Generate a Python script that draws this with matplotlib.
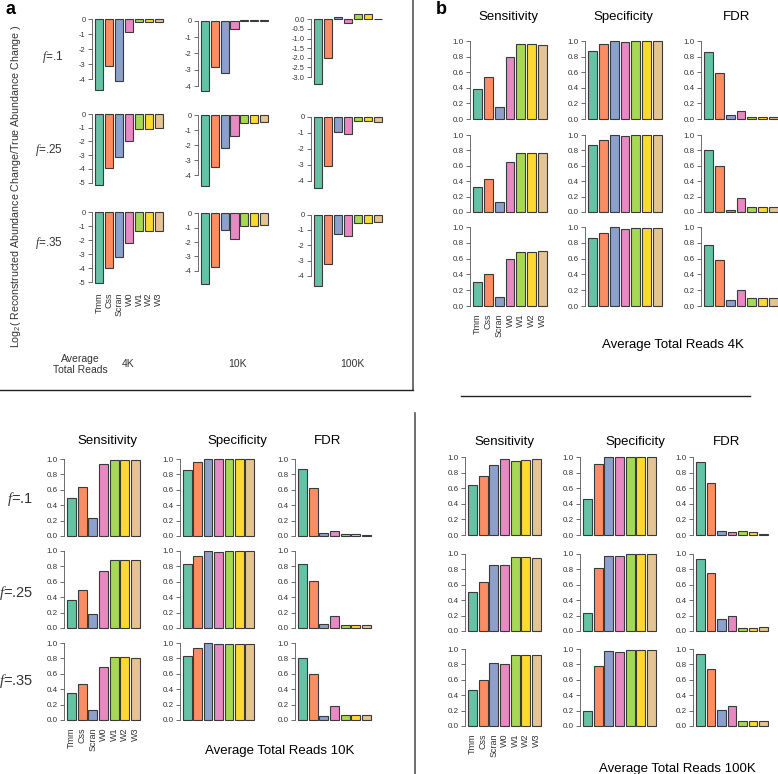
import numpy as np
import matplotlib
matplotlib.use('Agg')
import matplotlib.pyplot as plt
from matplotlib.lines import Line2D

plt.rcParams['font.family'] = ['Liberation Sans', 'DejaVu Sans']
plt.rcParams['mathtext.fontset'] = 'custom'
plt.rcParams['mathtext.rm'] = 'Liberation Sans'
plt.rcParams['mathtext.it'] = 'Liberation Serif:italic'
plt.rcParams['axes.unicode_minus'] = False

# ---- data ----
methods = ['Tmm', 'Css', 'Scran', 'W0', 'W1', 'W2', 'W3']
colors = ['#66C2A5', '#FC8D62', '#8DA0CB', '#E78AC3', '#A6D854', '#FFD92F', '#E5C494']
f_labels = ['.1', '.25', '.35']
reads = ['4K', '10K', '100K']

# panel a: log2 ratio, one list per read depth, rows = f
logfc_4k = [[-4.69, -3.13, -4.09, -0.89, -0.18, -0.18, -0.18],
            [-5.17, -3.96, -3.16, -1.97, -1.12, -1.12, -1.05],
            [-5.05, -4.00, -3.21, -2.17, -1.36, -1.36, -1.31]]
logfc_10k = [[-4.27, -2.83, -3.16, -0.53, 0.05, 0.05, 0.05],
             [-4.70, -3.47, -2.20, -1.37, -0.50, -0.50, -0.45],
             [-4.92, -3.74, -1.15, -1.78, -0.88, -0.88, -0.83]]
logfc_100k = [[-3.38, -2.00, 0.12, -0.20, 0.30, 0.25, 0.03],
              [-4.41, -3.06, -0.93, -1.10, -0.25, -0.27, -0.30],
              [-4.63, -3.25, -1.27, -1.40, -0.52, -0.55, -0.50]]

# panel b and the others: rows = f
sens_4k = [[0.39, 0.54, 0.15, 0.80, 0.96, 0.96, 0.95],
           [0.32, 0.43, 0.13, 0.645, 0.77, 0.77, 0.77],
           [0.31, 0.40, 0.11, 0.60, 0.68, 0.68, 0.70]]
spec_4k = [[0.87, 0.96, 1.0, 0.99, 0.995, 0.995, 0.995],
           [0.87, 0.94, 1.0, 0.985, 0.995, 0.995, 0.995],
           [0.86, 0.93, 1.0, 0.98, 0.99, 0.99, 0.99]]
fdr_4k = [[0.855, 0.585, 0.05, 0.10, 0.02, 0.02, 0.02],
          [0.81, 0.60, 0.03, 0.18, 0.07, 0.07, 0.07],
          [0.77, 0.58, 0.08, 0.20, 0.10, 0.10, 0.10]]

sens_10k = [[0.50, 0.64, 0.24, 0.93, 0.99, 0.99, 0.985],
            [0.37, 0.49, 0.18, 0.74, 0.88, 0.88, 0.88],
            [0.355, 0.465, 0.13, 0.69, 0.82, 0.82, 0.81]]
spec_10k = [[0.857, 0.965, 1.0, 1.0, 1.0, 1.0, 1.0],
            [0.837, 0.935, 1.0, 0.99, 0.995, 0.995, 0.995],
            [0.83, 0.93, 1.0, 0.985, 0.99, 0.99, 0.99]]
fdr_10k = [[0.87, 0.62, 0.045, 0.07, 0.02, 0.02, 0.015],
           [0.837, 0.61, 0.047, 0.15, 0.04, 0.04, 0.04],
           [0.81, 0.60, 0.05, 0.185, 0.065, 0.065, 0.065]]

sens_100k = [[0.64, 0.755, 0.90, 0.97, 0.95, 0.96, 0.975],
             [0.51, 0.63, 0.86, 0.86, 0.965, 0.965, 0.95],
             [0.47, 0.60, 0.82, 0.805, 0.92, 0.92, 0.92]]
spec_100k = [[0.465, 0.91, 1.0, 1.0, 1.0, 1.0, 1.0],
             [0.23, 0.815, 0.98, 0.98, 0.995, 0.995, 0.995],
             [0.19, 0.775, 0.97, 0.96, 0.99, 0.99, 0.99]]
fdr_100k = [[0.93, 0.67, 0.05, 0.04, 0.055, 0.04, 0.015],
            [0.94, 0.75, 0.15, 0.19, 0.035, 0.035, 0.048],
            [0.93, 0.745, 0.205, 0.255, 0.065, 0.065, 0.065]]

# ---- layout (pixels) ----
W, H = 778, 774
BW = 0.83      # bar width (slot = 1)
PAD = 0.27     # R style 4% padding, in slots
EDGE = '#3a3a3a'
TXT = '#333333'

fig = plt.figure(figsize=(W / 100, H / 100), dpi=100)


def px_axes(left, top, width, height):
    return fig.add_axes([left / W, 1 - (top + height) / H, width / W, height / H])


def T(x, y, s, **kw):
    return fig.text(x / W, 1 - y / H, s, **kw)


def bar_axes(vals, bar_l, bar_r, top, height, ylim, ticks, fmt, xlabels=False,
             xpad=3, tsize=6):
    unit = (bar_r - bar_l) / (6 + BW)
    ax = px_axes(bar_l - PAD * unit, top, (6 + BW + 2 * PAD) * unit, height)
    ax.bar(np.arange(7), vals, width=BW, color=colors, edgecolor=EDGE, linewidth=0.8)
    ax.set_xlim(-BW / 2 - PAD, 6 + BW / 2 + PAD)
    ax.set_ylim(*ylim)
    for s in ['top', 'right', 'bottom']:
        ax.spines[s].set_visible(False)
    ax.spines['left'].set_color('#555555')
    ax.spines['left'].set_linewidth(0.6)
    ax.spines['left'].set_bounds(min(ticks), max(ticks))
    ax.set_yticks(ticks)
    ax.set_yticklabels([fmt % t for t in ticks])
    ax.tick_params(axis='y', length=2.8, width=0.6, pad=2, labelsize=tsize,
                   colors='#555555', labelcolor=TXT)
    if xlabels:
        ax.set_xticks(np.arange(7))
        ax.set_xticklabels(methods, rotation=90, fontsize=6.5, color=TXT)
        ax.tick_params(axis='x', length=0, pad=xpad)
    else:
        ax.set_xticks([])
    ax.patch.set_alpha(0)
    return ax


def metric_axes(vals, cols, y1, y0, xlabels=False, xpad=3):
    scale = y0 - y1
    ticks = [0.0, 0.2, 0.4, 0.6, 0.8, 1.0]
    return bar_axes(vals, cols[0], cols[1], y1 - 0.04 * scale, 1.08 * scale,
                    (-0.04, 1.04), ticks, '%.1f', xlabels, xpad, tsize=5.8)


# ---- panel a ----
a_cols = [(95, 163), (201, 268), (314, 382)]
a_zero = [[19, 20.7, 19.3], [114, 115, 116.7], [212.3, 213.3, 214.7]]
a_step = [[1, 1, 0.5], [1, 1, 1], [1, 1, 1]]
a_h = 76.5
logfc = [logfc_4k, logfc_10k, logfc_100k]
for r in range(3):
    for c in range(3):
        v = logfc[c][r]
        lo, hi = min(0, min(v)), max(0, max(v))
        rng = hi - lo
        sc = a_h / (1.08 * rng)
        top = a_zero[r][c] - (hi + 0.04 * rng) * sc
        step = a_step[r][c]
        n = int(np.floor(-lo / step + 1e-9)) + 1
        ticks = [-(k * step) + 0.0 for k in range(n)]
        fmt = '%.1f' if step < 1 else '%d'
        bar_axes(v, a_cols[c][0], a_cols[c][1], top, a_h,
                 (lo - 0.04 * rng, hi + 0.04 * rng), ticks, fmt,
                 xlabels=(r == 2 and c == 0), xpad=5, tsize=5.4)

T(11, 9, 'a', fontsize=13, fontweight='bold', ha='center', va='center')
T(16, 186, r'Log$_2$( Reconstructed Abundance Change/True Abundance Change )',
  rotation=90, fontsize=7.7, ha='center', va='center', color=TXT)
for r, y in enumerate([57, 150, 243]):
    T(63, y, r'$f$=' + f_labels[r], fontsize=8.5, ha='right', va='center', color=TXT)
T(80, 364.5, 'Average\nTotal Reads', fontsize=7.5, ha='center', va='center',
  linespacing=1.05, color=TXT)
for x, lab in zip([128, 237, 352], reads):
    T(x, 364, lab, fontsize=7.5, ha='center', va='center', color=TXT)

# ---- metric grids ----
titles = ['Sensitivity', 'Specificity', 'FDR']
grids = [
    dict(data=[sens_4k, spec_4k, fdr_4k],
         cols=[(473, 547), (588, 662), (704, 778)],
         rows=[(41, 119), (135, 212), (227, 306)],
         tx=[508, 623, 737], ty=20, foot=(673, 348, 'Average Total Reads 4K')),
    dict(data=[sens_10k, spec_10k, fdr_10k],
         cols=[(67, 140), (183, 254), (298, 371)],
         rows=[(459, 536), (551, 628), (643, 720)],
         tx=[107, 237, 328], ty=444, foot=(280, 754, 'Average Total Reads 10K')),
    dict(data=[sens_100k, spec_100k, fdr_100k],
         cols=[(468, 541), (583, 656), (696, 768)],
         rows=[(457, 535), (554, 631), (649, 726)],
         tx=[504, 635, 727], ty=445, foot=(677, 772, 'Average Total Reads 100K')),
]
for g in grids:
    for c in range(3):
        for r in range(3):
            metric_axes(g['data'][c][r], g['cols'][c], g['rows'][r][0], g['rows'][r][1],
                        xlabels=(r == 2 and c == 0), xpad=3)
        T(g['tx'][c], g['ty'], titles[c], fontsize=9.5, ha='center', va='baseline')
    fx, fy, ftxt = g['foot']
    T(fx, fy, ftxt, fontsize=9.5, ha='center', va='baseline')

T(441, 9, 'b', fontsize=13, fontweight='bold', ha='center', va='center')
for r, y in enumerate([499, 593, 681]):
    T(33, y, r'$f$=' + f_labels[r], fontsize=10.5, ha='right', va='center', color=TXT)

# ---- separator lines ----
def px_line(x0, y0, x1, y1, color, lw):
    fig.add_artist(Line2D([x0 / W, x1 / W], [1 - y0 / H, 1 - y1 / H],
                          transform=fig.transFigure, color=color, linewidth=lw))

px_line(413, 0, 413, 390, '#555555', 1.2)
px_line(0, 390, 413, 390, '#222222', 1.0)
px_line(461, 396, 750, 396, '#222222', 1.0)
px_line(415, 413, 415, 774, '#555555', 1.2)

fig.savefig('out.png', dpi=100)
